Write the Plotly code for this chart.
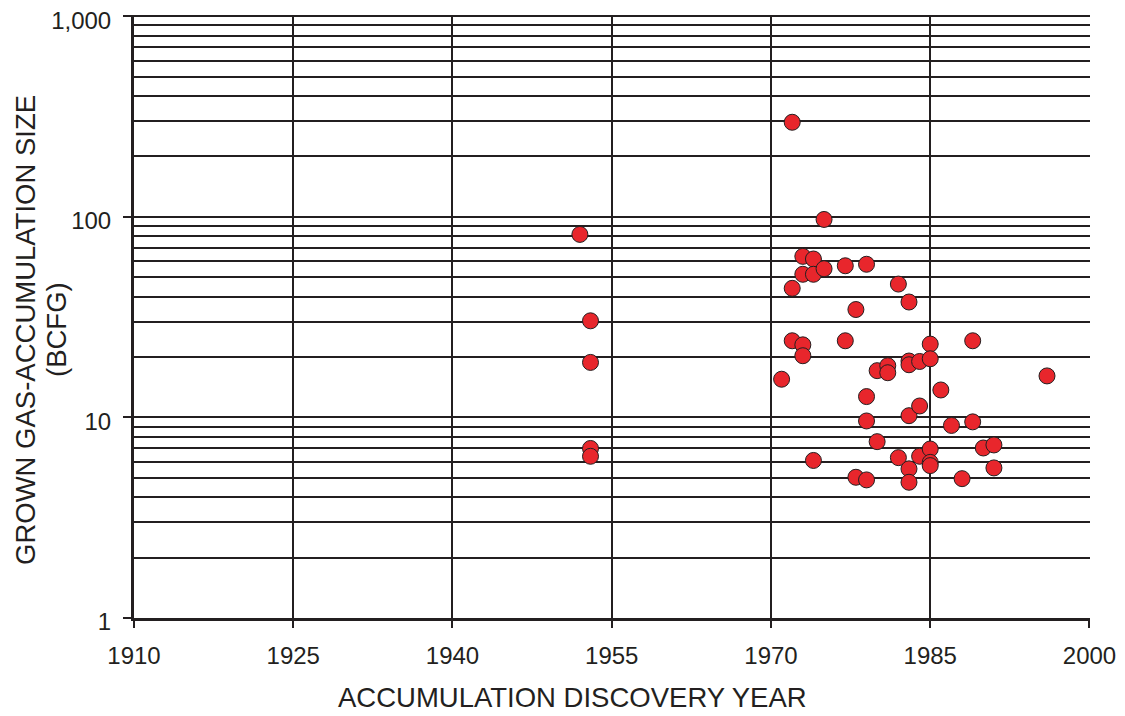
import plotly.graph_objects as go

years = [1952,
         1953, 1953, 1953, 1953,
         1971,
         1972, 1972, 1972,
         1973, 1973, 1973, 1973,
         1974, 1974, 1974,
         1975, 1975,
         1977, 1977,
         1978, 1978,
         1979, 1979, 1979, 1979,
         1980, 1980,
         1981, 1981,
         1982, 1982,
         1983, 1983, 1983, 1983, 1983, 1983,
         1984, 1984, 1984,
         1985, 1985, 1985, 1985, 1985,
         1986, 1987, 1988,
         1989, 1989,
         1990,
         1991, 1991,
         1996]
sizes = [81.7,
         30.3, 18.8, 7.0, 6.4,
         15.5,
         296, 44, 24.1,
         63.5, 51.7, 23.0, 20.3,
         61.6, 51.7, 6.1,
         97, 55.1,
         57, 24.1,
         34.5, 5.03,
         58, 12.7, 9.6, 4.88,
         17.1, 7.57,
         18.1, 16.7,
         46.2, 6.3,
         37.6, 19.1, 18.3, 10.2, 5.54, 4.75,
         19.0, 11.4, 6.4,
         23.2, 19.6, 6.96, 5.97, 5.75,
         13.7, 9.12, 4.95,
         24.1, 9.5,
         7.04,
         7.29, 5.6,
         16.1]

x_ticks = [1910, 1925, 1940, 1955, 1970, 1985, 2000]
y_ticks = [1, 10, 100, 1000]
y_tick_text = ["1", "10", "100", "1,000"]
y_minor = [m * d for d in (1, 10, 100) for m in range(2, 10)]

x_title = "ACCUMULATION DISCOVERY YEAR"
y_title_lines = ["GROWN GAS-ACCUMULATION SIZE", "(BCFG)"]

ink = "#231F20"
font = "Liberation Sans, Arial, sans-serif"

# page has an 8px body margin; the figure is sized so the plot lands
# at page pixels x 134..1090, y 15..618 (1000 line at ~16)
OFF = 8
W, H = 1117, 708
L, T = 134 - OFF, 15 - OFF
R = W - (1090 - OFF)
B = H - (618 - OFF)
pw, ph = W - L - R, H - T - B


def px_x(p):
    return (p - OFF - L) / pw


def px_y(p):
    return (H - B - (p - OFF)) / ph


fig = go.Figure()
fig.add_trace(go.Scatter(
    x=years, y=sizes, mode="markers",
    marker=dict(size=16, color="#E8262C", line=dict(color=ink, width=1)),
    showlegend=False, cliponaxis=False,
))

fig.update_layout(
    width=W, height=H,
    margin=dict(l=L, r=R, t=T, b=B, autoexpand=False),
    paper_bgcolor="white", plot_bgcolor="white",
    font=dict(family=font, color=ink, size=24),
)
fig.update_xaxes(
    range=[1910, 2000.05], tickvals=x_ticks, ticktext=[str(v) for v in x_ticks],
    showgrid=True, gridcolor=ink, gridwidth=1.5,
    showline=True, linecolor=ink, linewidth=3,
    ticks="outside", ticklen=7, tickwidth=2, tickcolor=ink,
    tickfont=dict(size=24), zeroline=False, automargin=False,
    ticklabelstandoff=7, ticklabeloverflow="allow",
)
fig.update_yaxes(
    type="log", range=[0, 3.006], tickvals=y_ticks, ticktext=y_tick_text,
    showgrid=True, gridcolor=ink, gridwidth=1.5,
    minor=dict(tickvals=y_minor, showgrid=True, gridcolor=ink, gridwidth=1.5, ticks=""),
    showline=True, linecolor=ink, linewidth=3,
    ticks="outside", ticklen=8, tickwidth=2, tickcolor=ink,
    tickfont=dict(size=24), zeroline=False, automargin=False,
    ticklabelstandoff=7, ticklabelshift=4, ticklabeloverflow="allow",
)

fig.add_annotation(
    text=x_title, xref="paper", yref="paper",
    x=px_x(572), y=px_y(697), xanchor="center", yanchor="middle",
    showarrow=False, font=dict(size=27.5, color=ink),
)
for txt, xp in zip(y_title_lines, (25, 56)):
    fig.add_annotation(
        text=txt, xref="paper", yref="paper",
        x=px_x(xp), y=px_y(330), xanchor="center", yanchor="middle",
        textangle=-90, showarrow=False, font=dict(size=27.5, color=ink),
    )

fig.write_html("out.html")
